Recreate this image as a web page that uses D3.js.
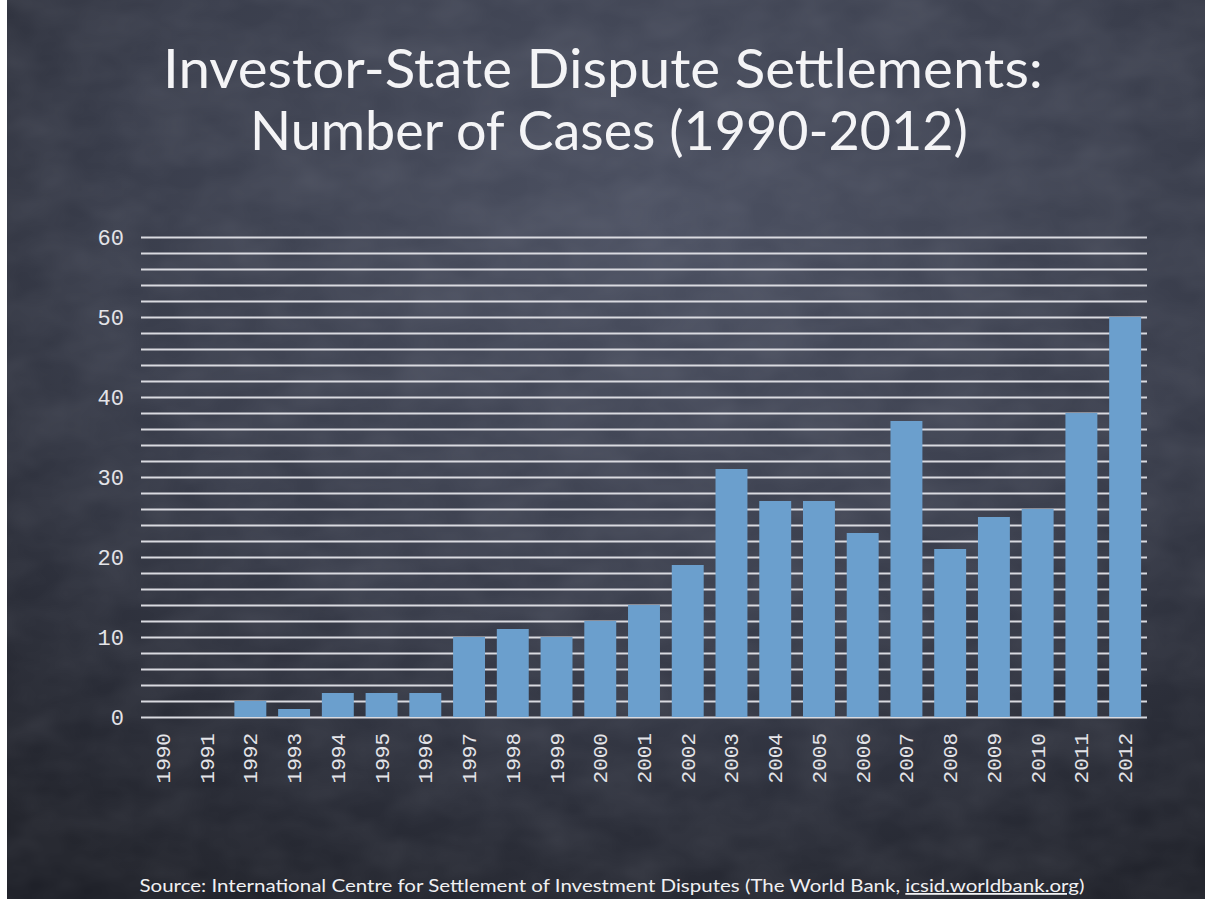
<!DOCTYPE html>
<html>
<head>
<meta charset="utf-8">
<script src="https://cdn.jsdelivr.net/npm/d3@7"></script>
<style>
  html, body { margin: 0; padding: 0; background: #fff; overflow: hidden; }
  svg { display: block; }
</style>
</head>
<body>
<div id="chart"></div>
<script>
const years = ["1990","1991","1992","1993","1994","1995","1996","1997","1998","1999","2000","2001",
               "2002","2003","2004","2005","2006","2007","2008","2009","2010","2011","2012"];
const cases = [0, 0, 2, 1, 3, 3, 3, 10, 11, 10, 12, 14, 19, 31, 27, 27, 23, 37, 21, 25, 26, 38, 50];
const yLabels = [0, 10, 20, 30, 40, 50, 60];
const gridValues = d3.range(0, 61, 2);
const titleLines = ["Investor-State Dispute Settlements:", "Number of Cases (1990-2012)"];

const width = 1208, height = 899;
const margin = {top: 237, bottom: 182, left: 141, right: 61};
const innerWidth = width - margin.left - margin.right,
      innerHeight = height - margin.top - margin.bottom;
const monoFont = "'Liberation Mono', 'DejaVu Sans Mono', monospace";

const svg = d3.select("#chart")
  .append("svg")
  .attr("width", width)
  .attr("height", height);

// chalkboard background
const defs = svg.append("defs");
const grad = defs.append("radialGradient")
  .attr("id", "board")
  .attr("cx", "55%").attr("cy", "25%").attr("r", "85%");
grad.append("stop").attr("offset", "0%").attr("stop-color", "#4c5162");
grad.append("stop").attr("offset", "55%").attr("stop-color", "#393d4b");
grad.append("stop").attr("offset", "100%").attr("stop-color", "#1f2129");

const noise = defs.append("filter").attr("id", "chalk")
  .attr("x", 0).attr("y", 0).attr("width", "100%").attr("height", "100%");
noise.append("feTurbulence")
  .attr("type", "fractalNoise").attr("baseFrequency", "0.015 0.025")
  .attr("numOctaves", 3).attr("seed", 7);
noise.append("feColorMatrix").attr("type", "matrix")
  .attr("values", "0 0 0 0 0.8  0 0 0 0 0.82  0 0 0 0 0.9  0 0 0 0.12 -0.03");

svg.append("rect")
  .attr("x", 7).attr("y", 0)
  .attr("width", width - 10).attr("height", height)
  .attr("fill", "url(#board)");
svg.append("rect")
  .attr("x", 7).attr("y", 0)
  .attr("width", width - 10).attr("height", height)
  .attr("filter", "url(#chalk)");

// title
svg.append("g")
  .selectAll("text")
  .data(titleLines)
  .join("text")
  .attr("x", (d, i) => i === 0 ? 603 : 609)
  .attr("y", (d, i) => 88 + i * 62)
  .attr("text-anchor", "middle")
  .attr("textLength", (d, i) => i === 0 ? 880 : 718)
  .attr("lengthAdjust", "spacingAndGlyphs")
  .attr("font-family", "Lato, 'Noto Sans', sans-serif")
  .attr("font-size", 54)
  .attr("fill", "#f4f4f6")
  .text(d => d);

const x = d3.scaleBand()
  .domain(years)
  .range([margin.left, margin.left + innerWidth])
  .paddingInner(0.27)
  .paddingOuter(0.135);
const y = d3.scaleLinear()
  .domain([0, 60])
  .range([margin.top + innerHeight, margin.top]);

// grid lines every 2 cases
svg.append("g")
  .attr("class", "grid")
  .attr("transform", `translate(${margin.left}, 0)`)
  .call(d3.axisLeft(y).tickValues(gridValues).tickSize(-innerWidth).tickFormat(""))
  .call(s => s.select(".domain").remove())
  .call(s => s.selectAll("text").remove())
  .call(s => s.selectAll("line")
    .attr("stroke", "#d9dae0")
    .attr("stroke-width", 2));

// y labels (right edge 17px left of the plot)
svg.append("g")
  .attr("class", "y-labels")
  .selectAll("text")
  .data(yLabels)
  .join("text")
  .attr("y", d => y(d) + 8)
  .attr("text-anchor", "start")
  .attr("font-family", monoFont)
  .attr("font-size", 22)
  .attr("fill", "#e4e4e8")
  .text(d => d)
  .attr("x", function() { return margin.left - 17 - this.getComputedTextLength(); });

// bars
svg.append("g")
  .selectAll("rect")
  .data(years)
  .join("rect")
  .attr("x", d => x(d))
  .attr("width", x.bandwidth())
  .attr("y", (d, i) => y(cases[i]))
  .attr("height", (d, i) => y(0) - y(cases[i]))
  .attr("fill", "#6b9fcd");

// x labels rotated, reading upwards, top end 16px under the axis
const labelTop = y(0) + 16;
const labelX = d => x(d) + x.bandwidth() / 2 + 7;
svg.append("g")
  .attr("class", "x-labels")
  .selectAll("text")
  .data(years)
  .join("text")
  .attr("y", labelTop)
  .attr("text-anchor", "start")
  .attr("font-family", monoFont)
  .attr("font-size", 21)
  .attr("fill", "#e4e4e8")
  .text(d => d)
  .attr("x", function(d) { return labelX(d) - this.getComputedTextLength(); })
  .attr("transform", d => `rotate(-90, ${labelX(d)}, ${labelTop})`);

// source
const source = svg.append("text")
  .attr("x", 612)
  .attr("y", 892)
  .attr("text-anchor", "middle")
  .attr("textLength", 945)
  .attr("lengthAdjust", "spacingAndGlyphs")
  .attr("font-family", "Lato, 'Noto Sans', sans-serif")
  .attr("font-size", 18)
  .attr("fill", "#f0f0f2");
source.append("tspan").text("Source: International Centre for Settlement of Investment Disputes (The World Bank, ");
source.append("tspan").attr("text-decoration", "underline").text("icsid.worldbank.org");
source.append("tspan").text(")");
</script>
</body>
</html>
